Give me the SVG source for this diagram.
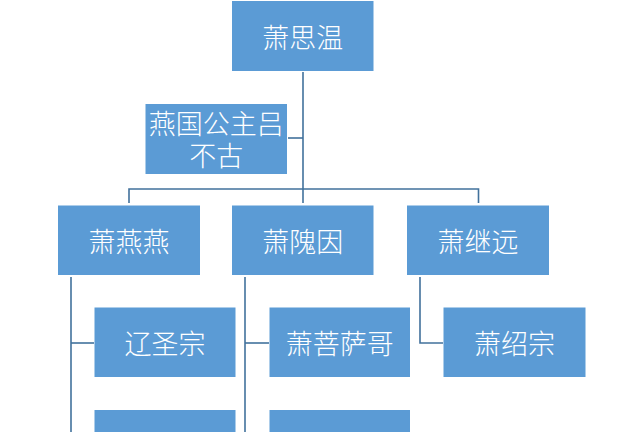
<svg xmlns="http://www.w3.org/2000/svg" width="640" height="432" viewBox="0 0 640 432">
<style>
.box{fill:#5B9BD5;}
.lbl{fill:#FFFFFF;font-family:"Noto Sans CJK SC","Noto Sans CJK JP",sans-serif;font-size:27px;font-weight:300;text-anchor:middle;dominant-baseline:central;}
.ln{stroke:#41719C;stroke-width:1.6;fill:none;}
</style>
<rect width="640" height="432" fill="#FFFFFF"/>
<g id="connectors">
<path class="ln" d="M303,72 V203"/>
<path class="ln" d="M288,138 H303"/>
<path class="ln" d="M129,203 V189 H478.5 V203"/>
<path class="ln" d="M71,277 V432"/>
<path class="ln" d="M71,343 H94"/>
<path class="ln" d="M245,277 V432"/>
<path class="ln" d="M245,343 H269"/>
<path class="ln" d="M420,277 V343 H443"/>
</g>
<g id="n-xiaosiwen"><rect class="box" x="232" y="1" width="141.5" height="70"/><text class="lbl" x="302.75" y="36">萧思温</text></g>
<g id="n-lvbugu"><rect class="box" x="145.5" y="104" width="141.5" height="70"/><text class="lbl" x="216.25" y="122"><tspan x="216.25" y="122">燕国公主吕</tspan><tspan x="216.25" y="154">不古</tspan></text></g>
<g id="n-xiaoyanyan"><rect class="box" x="58" y="205.5" width="142" height="69.5"/><text class="lbl" x="129" y="240">萧燕燕</text></g>
<g id="n-xiaoweiyin"><rect class="box" x="232" y="205.5" width="141.5" height="69.5"/><text class="lbl" x="302.75" y="240">萧隗因</text></g>
<g id="n-xiaojiyuan"><rect class="box" x="407" y="205.5" width="142" height="69.5"/><text class="lbl" x="478" y="240">萧继远</text></g>
<g id="n-liaoshengzong"><rect class="box" x="94.5" y="307.5" width="141" height="69.5"/><text class="lbl" x="165" y="342">辽圣宗</text></g>
<g id="n-xiaopusage"><rect class="box" x="269.5" y="307.5" width="140.5" height="69.5"/><text class="lbl" x="339.75" y="342">萧菩萨哥</text></g>
<g id="n-xiaoshaozong"><rect class="box" x="443.5" y="307.5" width="142" height="69.5"/><text class="lbl" x="514.5" y="342">萧绍宗</text></g>
<g id="n-yanyan-child2"><rect class="box" x="94.5" y="410" width="141" height="30"/></g>
<g id="n-weiyin-child2"><rect class="box" x="269.5" y="410" width="140.5" height="30"/></g>
</svg>
